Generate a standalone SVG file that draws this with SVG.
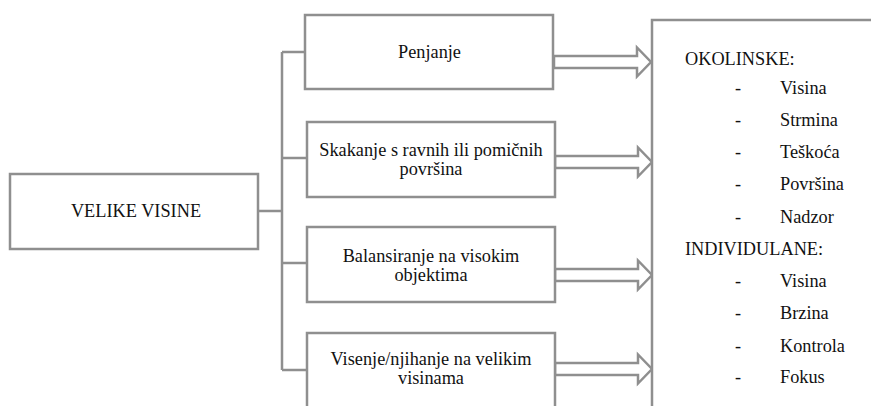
<svg xmlns="http://www.w3.org/2000/svg" width="871" height="406" viewBox="0 0 871 406">
<style>
.box{fill:#fff;stroke:#8f8f8f;stroke-width:2.5}
.ln{fill:none;stroke:#8f8f8f;stroke-width:2.5}
text{font-family:'Liberation Serif','Times New Roman',serif;font-size:18.3px;fill:#111}
.c{text-anchor:middle}
</style>
<defs>
<path id="arr" d="M0,-6 H83 V-14.5 L97,0 L83,14.5 V6 H0 Z" fill="#fff" stroke="#8f8f8f" stroke-width="2.5"/>
</defs>
<rect width="871" height="406" fill="#fff"/>
<g id="connectors">
<path class="ln" d="M258,211 H282 M282,52 V370 M282,52 H305 M282,158 H307 M282,263 H307 M282,370 H307"/>
<use href="#arr" transform="translate(554,62)"/>
<use href="#arr" transform="translate(555,162)"/>
<use href="#arr" transform="translate(555,275)"/>
<use href="#arr" transform="translate(555,369)"/>
</g>
<g id="velike-visine">
<rect class="box" x="10" y="174" width="248" height="75"/>
<text class="c" x="136" y="217">VELIKE VISINE</text>
</g>
<g id="penjanje">
<rect class="box" x="305" y="15" width="248" height="74"/>
<text class="c" x="429.5" y="58">Penjanje</text>
</g>
<g id="skakanje">
<rect class="box" x="307" y="122" width="248" height="75"/>
<text class="c" x="431" y="156">Skakanje s ravnih ili pomičnih</text>
<text class="c" x="431" y="175">površina</text>
</g>
<g id="balansiranje">
<rect class="box" x="307" y="227" width="248" height="75"/>
<text class="c" x="431" y="262">Balansiranje na visokim</text>
<text class="c" x="431" y="281">objektima</text>
</g>
<g id="visenje">
<rect class="box" x="307" y="333" width="248" height="90"/>
<text class="c" x="431" y="365">Visenje/njihanje na velikim</text>
<text class="c" x="431" y="384">visinama</text>
</g>
<g id="faktori">
<rect class="box" x="652" y="20" width="240" height="400"/>
<text x="685" y="65">OKOLINSKE:</text>
<text x="735" y="94">-</text><text x="780" y="94">Visina</text>
<text x="735" y="126">-</text><text x="780" y="126">Strmina</text>
<text x="735" y="158">-</text><text x="780" y="158">Teškoća</text>
<text x="735" y="190">-</text><text x="780" y="190">Površina</text>
<text x="735" y="223">-</text><text x="780" y="223">Nadzor</text>
<text x="685" y="255">INDIVIDULANE:</text>
<text x="735" y="287">-</text><text x="780" y="287">Visina</text>
<text x="735" y="319">-</text><text x="780" y="319">Brzina</text>
<text x="735" y="352">-</text><text x="780" y="352">Kontrola</text>
<text x="735" y="383">-</text><text x="780" y="383">Fokus</text>
</g>
</svg>
